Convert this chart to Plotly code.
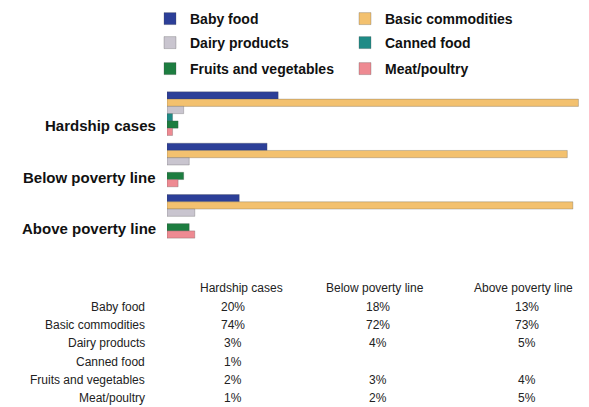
import plotly.graph_objects as go

# ---- data ----
groups = ["Hardship cases", "Below poverty line", "Above poverty line"]
series = ["Baby food", "Basic commodities", "Dairy products", "Canned food",
          "Fruits and vegetables", "Meat/poultry"]
baby_food = [20, 18, 13]
basic_commodities = [74, 72, 73]
dairy_products = [3, 4, 5]
canned_food = [1, None, None]
fruits_vegetables = [2, 3, 4]
meat_poultry = [1, 2, 5]
values = [baby_food, basic_commodities, dairy_products, canned_food,
          fruits_vegetables, meat_poultry]
colors = ["#2c3f98", "#f3c16f", "#c9c5cf", "#1f8b86", "#1d7d40", "#ee8a92"]

OFF = 8  # page body margin
W, H = 589 - OFF, 407 - OFF
L, R, T, B = 167 - OFF, 5, 88 - OFF, 165
pw, ph = W - L - R, H - T - B


def px(x):
    return (x - OFF - L) / pw


def py(y):
    return (H - B - (y - OFF)) / ph


fig = go.Figure()
legend_of = ["legend", "legend", "legend2", "legend2", "legend3", "legend3"]
for name, vals, col, lg in zip(series, values, colors, legend_of):
    fig.add_trace(go.Bar(
        y=groups, x=vals, name=name, orientation="h",
        marker=dict(color=col, line=dict(width=0.6, color="rgba(70,70,70,0.45)")),
        legend=lg,
    ))

font_b = dict(family="Liberation Sans, Arial, sans-serif", size=14, color="#111", weight="bold")
font_t = dict(family="Liberation Sans, Arial, sans-serif", size=12, color="#222")

leg_common = dict(orientation="h", xanchor="left", yanchor="middle",
                  entrywidth=150, entrywidthmode="pixels", font=font_b,
                  bgcolor="rgba(0,0,0,0)", itemclick=False, traceorder="normal")

annotations = []
# category labels (offset below group centres, as in the reference)
for g in groups:
    annotations.append(dict(x=0, xref="paper", y=g, yref="y", text=g,
                            xanchor="right", yanchor="middle", xshift=-9, yshift=-12,
                            showarrow=False, font=dict(font_b, size=15)))

# data table
header_x = [198, 324, 472]
col_x = [233, 378, 527]
row_y = [307, 325, 343, 362, 380, 398]
for g, hx in zip(groups, header_x):
    annotations.append(dict(x=px(hx), y=py(288), xref="paper", yref="paper", text=g,
                            xanchor="left", yanchor="middle", showarrow=False, font=font_t))
for s, vals, ry in zip(series, values, row_y):
    annotations.append(dict(x=px(147), y=py(ry), xref="paper", yref="paper", text=s,
                            xanchor="right", yanchor="middle", showarrow=False, font=font_t))
    for v, cx in zip(vals, col_x):
        if v is None:
            continue
        annotations.append(dict(x=px(cx), y=py(ry), xref="paper", yref="paper",
                                text=f"{v}%", xanchor="center", yanchor="middle",
                                showarrow=False, font=font_t))

fig.update_layout(
    width=W, height=H,
    margin=dict(l=L, r=R, t=T, b=B, pad=0, autoexpand=False),
    paper_bgcolor="white", plot_bgcolor="white",
    barmode="group", bargap=0.15, bargroupgap=0,
    xaxis=dict(range=[0, 75], visible=False, fixedrange=True),
    yaxis=dict(autorange="reversed", showticklabels=False, showgrid=False,
               zeroline=False, showline=False, ticks=""),
    legend=dict(leg_common, x=px(150), y=py(19)),
    legend2=dict(leg_common, x=px(150), y=py(43)),
    legend3=dict(leg_common, x=px(150), y=py(69)),
    annotations=annotations,
    showlegend=True,
)

fig.write_html("out.html")
